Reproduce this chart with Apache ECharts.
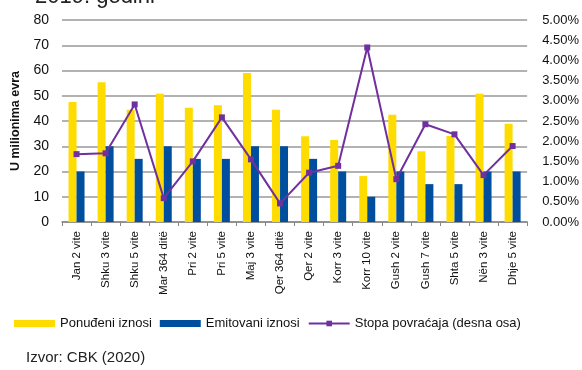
<!DOCTYPE html>
<html><head><meta charset="utf-8">
<script src="https://cdn.jsdelivr.net/npm/echarts@6/dist/echarts.min.js"></script>
<style>html,body{margin:0;padding:0;background:#fff}#c{width:582px;height:370px}</style>
</head><body><div id="c"></div>
<script>
const categories = ["Jan 2 vite","Shku 3 vite","Shku 5 vite","Mar 364 ditë","Pri 2 vite","Pri 5 vite","Maj 3 vite","Qer 364 ditë","Qer 2 vite","Korr 3 vite","Korr 10 vite","Gush 2 vite","Gush 7 vite","Shta 5 vite","Nën 3 vite","Dhje 5 vite"];
const offered = [47.5,55.3,44.5,50.8,45.2,46.2,59,44.5,34,32.5,18.2,42.5,28,34.1,50.8,38.9];
const issued = [20,30,25,30,25,25,30,30,25,20,10,20,15,15,20,20];
const rate = [1.68,1.70,2.91,0.59,1.50,2.59,1.55,0.46,1.22,1.39,4.32,1.06,2.42,2.17,1.16,1.88];
const leftTicks = [0,80,10];
const rightTicks = [0,5,0.5];

const chart = echarts.init(document.getElementById('c'));
const font = 'Liberation Sans, Arial, sans-serif';
chart.setOption({
  animation:false,
  textStyle:{fontFamily:font},
  graphic:[
    {type:'text',left:35,top:-14,style:{text:'2019. godini',font:'22px '+font,fill:'#222'}},
    {type:'text',left:26,top:350,style:{text:'Izvor: CBK (2020)',font:'15px '+font,fill:'#222'}}
  ],
  legend:{
    left:9, top:312, itemGap:8, itemWidth:41, itemHeight:7,
    textStyle:{fontSize:13,color:'#111',fontFamily:font},
    data:[{name:'Ponuđeni iznosi',icon:'rect'},{name:'Emitovani iznosi',icon:'rect'},{name:'Stopa povraćaja (desna osa)'}]
  },
  grid:{left:62,right:53,top:20,bottom:148},
  xAxis:{
    type:'category', data:categories,
    axisLine:{lineStyle:{color:'#888',width:1.5}},
    axisTick:{show:true,length:4,lineStyle:{color:'#888'}},
    axisLabel:{rotate:90,fontSize:11.5,color:'#111',margin:9,fontFamily:font}
  },
  yAxis:[
    {type:'value',min:leftTicks[0],max:leftTicks[1],interval:leftTicks[2],
     name:'U milionima evra',nameLocation:'middle',nameGap:38,nameRotate:90,
     nameTextStyle:{fontWeight:'bold',fontSize:12.5,color:'#111',fontFamily:font},
     axisLine:{show:false},axisTick:{show:false},
     axisLabel:{fontSize:14,color:'#111',margin:13,fontFamily:font},
     splitLine:{lineStyle:{color:'#999',width:1.5}}},
    {type:'value',min:rightTicks[0],max:rightTicks[1],interval:rightTicks[2],
     axisLine:{show:false},axisTick:{show:false},
     axisLabel:{fontSize:13,color:'#111',margin:15,fontFamily:font,formatter:v=>v.toFixed(2)+'%'},
     splitLine:{show:false}}
  ],
  series:[
    {name:'Ponuđeni iznosi',type:'bar',data:offered,barWidth:8,barGap:'0%',itemStyle:{color:'#FFDC00'}},
    {name:'Emitovani iznosi',type:'bar',data:issued,barWidth:8,itemStyle:{color:'#004F9F'}},
    {name:'Stopa povraćaja (desna osa)',type:'line',yAxisIndex:1,data:rate,
     symbol:'rect',symbolSize:6,lineStyle:{color:'#7030A0',width:2},itemStyle:{color:'#7030A0'}}
  ]
});
</script></body></html>
